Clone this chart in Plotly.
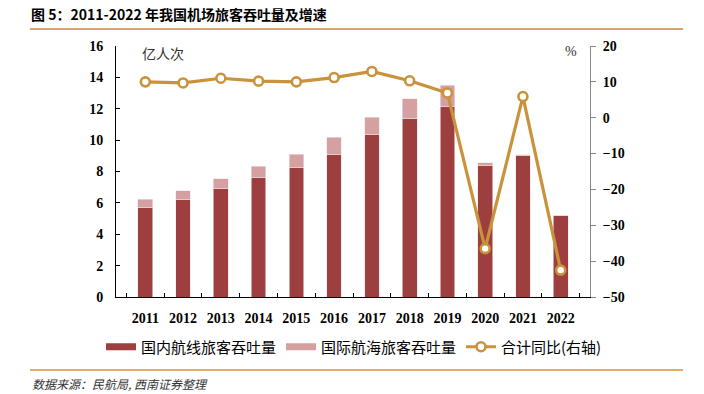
import plotly.graph_objects as go

years = ["2011", "2012", "2013", "2014", "2015", "2016", "2017", "2018", "2019", "2020", "2021", "2022"]
domestic = [5.72, 6.23, 6.90, 7.63, 8.27, 9.11, 10.37, 11.36, 12.13, 8.39, 9.05, 5.21]
international = [0.51, 0.55, 0.64, 0.70, 0.84, 1.07, 1.10, 1.28, 1.38, 0.17, 0.02, 0.00]
yoy = [10.0, 9.7, 11.0, 10.2, 10.0, 11.2, 12.9, 10.3, 6.9, -36.5, 5.9, -42.5]

W, H = 704, 394
L, R, T, B = 116, 590, 46, 297

def px(x):
    return (x - L) / (R - L)

def py(y):
    return (B - y) / (B - T)

DOM_C = "#9E3F3F"
INT_C = "#D4A0A1"
LINE_C = "#C9923B"
CJK = "Noto Sans CJK SC"
NUM = "Liberation Serif"

fig = go.Figure()
fig.add_trace(go.Bar(x=years, y=domestic, name="国内航线旅客吞吐量", marker=dict(color=DOM_C, line=dict(width=0.6, color="#F2E4E4")),
                     width=0.39, showlegend=False))
fig.add_trace(go.Bar(x=years, y=international, name="国际航海旅客吞吐量", marker=dict(color=INT_C, line=dict(width=0.6, color="#F2E4E4")),
                     width=0.39, showlegend=False))
fig.add_trace(go.Scatter(x=years, y=yoy, name="合计同比(右轴)", yaxis="y2", mode="lines+markers",
                         line=dict(color=LINE_C, width=3.2),
                         marker=dict(symbol="circle", size=9, color="white", line=dict(color=LINE_C, width=2.6)),
                         showlegend=False))
# legend entries
fig.add_trace(go.Scatter(x=[None], y=[None], mode="lines", name="国内航线旅客吞吐量", line=dict(color=DOM_C, width=7)))
fig.add_trace(go.Scatter(x=[None], y=[None], mode="lines", name="国际航海旅客吞吐量", line=dict(color=INT_C, width=7)))
fig.add_trace(go.Scatter(x=[None], y=[None], mode="lines+markers", name="合计同比(右轴)", line=dict(color=LINE_C, width=3.2),
                         marker=dict(symbol="circle", size=9, color="white", line=dict(color=LINE_C, width=2.6))))

fig.update_layout(
    width=W, height=H,
    margin=dict(l=L, r=W - R, t=T, b=H - B, autoexpand=False),
    paper_bgcolor="white", plot_bgcolor="white",
    barmode="stack",
    font=dict(family=CJK, color="black"),
    xaxis=dict(type="category", showline=True, linecolor="black", linewidth=1,
               ticks="inside", tickson="boundaries", ticklen=4, tickcolor="black",
               ticklabelstandoff=8,
               tickfont=dict(family=NUM, size=14, color="black", weight="bold"),
               showgrid=False, zeroline=False),
    yaxis=dict(range=[0, 16], dtick=2, showline=True, linecolor="black", linewidth=1,
               ticks="inside", ticklen=4, tickcolor="black", ticklabelstandoff=9,
               tickfont=dict(family=NUM, size=14, color="black", weight="bold"),
               showgrid=False, zeroline=False),
    yaxis2=dict(range=[-50, 20], dtick=10, overlaying="y", side="right", showline=True,
                linecolor="#888888", linewidth=1, ticks="outside", ticklen=5, tickcolor="#888888",
                ticklabelstandoff=4,
                tickfont=dict(family=NUM, size=14, color="black", weight="bold"),
                showgrid=False, zeroline=False),
    legend=dict(orientation="h", x=px(101), xanchor="left", y=py(347), yanchor="middle",
                font=dict(family=CJK, size=15, color="black"), itemwidth=30,
                entrywidth=135,
                traceorder="normal", borderwidth=0,
                bgcolor="rgba(0,0,0,0)", tracegroupgap=0),
    showlegend=True,
)

fig.add_annotation(text="图 5：2011-2022 年我国机场旅客吞吐量及增速", xref="paper", yref="paper",
                   x=px(29), y=py(14), xanchor="left", yanchor="middle", showarrow=False,
                   font=dict(family=CJK, size=14, color="black", weight="bold"))
fig.add_annotation(text="亿人次", xref="paper", yref="paper", x=px(140), y=py(53),
                   xanchor="left", yanchor="middle", showarrow=False,
                   font=dict(family=CJK, size=14, color="#333333"))
fig.add_annotation(text="%", xref="paper", yref="paper", x=px(571), y=py(52),
                   xanchor="center", yanchor="middle", showarrow=False,
                   font=dict(family=NUM, size=14, color="#333333"))
fig.add_annotation(text="<i>数据来源：民航局, 西南证券整理</i>", xref="paper", yref="paper", x=px(30), y=py(383),
                   xanchor="left", yanchor="middle", showarrow=False,
                   font=dict(family=CJK, size=12, color="#333333"))
fig.add_shape(type="line", xref="paper", yref="paper", x0=px(30), x1=px(683), y0=py(29), y1=py(29),
              line=dict(color="#D4A56E", width=2))
fig.add_shape(type="line", xref="paper", yref="paper", x0=px(30), x1=px(683), y0=py(370), y1=py(370),
              line=dict(color="#DB922F", width=1.5))

fig.write_html("out.html", config={"displayModeBar": False},
               post_script="document.body.style.margin='0';document.body.style.overflow='hidden';")
